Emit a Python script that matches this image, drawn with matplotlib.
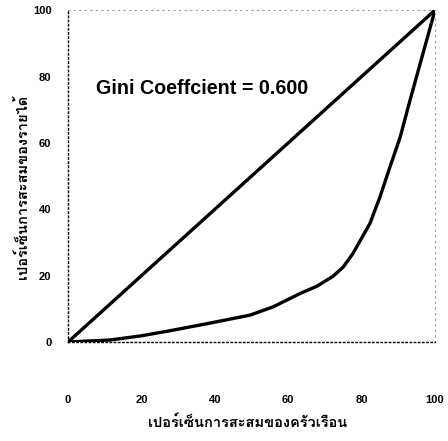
import matplotlib
matplotlib.use("Agg")
import matplotlib.pyplot as plt
from matplotlib import font_manager
from matplotlib.ft2font import FT2Font

# ---- data ----
equality_x = [0, 100]
equality_y = [0, 100]
lorenz_x = [0, 11.4, 19.6, 27.8, 38.7, 49.6, 55.9, 63.2, 67.8, 72.2, 75.0, 77.7, 82.3, 85.0, 87.7, 90.5, 93.2, 100]
lorenz_y = [0, 0.6, 1.8, 3.4, 5.7, 8.1, 10.6, 14.6, 16.8, 19.8, 22.6, 26.8, 35.8, 43.7, 52.7, 61.7, 72.9, 100]
ticks = [0, 20, 40, 60, 80, 100]
xlabel = "เปอร์เซ็นการสะสมของครัวเรือน"
ylabel = "เปอร์เซ็นการสะสมของรายได้"
annotation = "Gini Coeffcient = 0.600"

# find a font with Thai glyphs
thai_family = None
for f in font_manager.fontManager.ttflist:
    try:
        ft = FT2Font(f.fname)
        cm = ft.get_charmap()
        if 0x0E40 in cm and 0x0E2A in cm:
            thai_family = f.name
            if f.weight in ("bold", 700) or "Bold" in f.fname:
                break
    except Exception:
        pass
label_family = [thai_family, "DejaVu Sans"] if thai_family else ["DejaVu Sans"]

plt.rcParams['font.family'] = ['Liberation Sans', 'DejaVu Sans']

fig = plt.figure(figsize=(4.48, 4.41), dpi=100)
ax = fig.add_axes([0.152, 0.2245, 0.819, 0.7525])

ax.plot(equality_x, equality_y, color='black', lw=2.4, solid_capstyle='round')
ax.plot(lorenz_x, lorenz_y, color='black', lw=2.4, solid_joinstyle='round')

ax.set_xlim(0, 100)
ax.set_ylim(0, 100)
ax.set_xticks(ticks)
ax.set_yticks(ticks)
ax.set_xticklabels([str(t) for t in ticks], fontweight='bold', fontsize=8)
ax.set_yticklabels([str(t) for t in ticks], fontweight='bold', fontsize=8)
ax.tick_params(axis='x', length=0, pad=38)
ax.tick_params(axis='y', length=0, pad=12)

for side in ['left', 'bottom']:
    ax.spines[side].set_linestyle((0, (1, 2)))
    ax.spines[side].set_linewidth(1.0)
    ax.spines[side].set_color('black')
for side in ['top', 'right']:
    ax.spines[side].set_linestyle((0, (1, 4)))
    ax.spines[side].set_linewidth(0.8)
    ax.spines[side].set_color('#999999')

ax.text(7.6, 76.5, annotation, fontsize=14.2, fontweight='bold', va='center', ha='left')

ax.set_xlabel(xlabel, family=label_family, fontsize=10.5, fontweight='bold', va='center')
ax.xaxis.set_label_coords(0.49, -0.244)
ax.set_ylabel(ylabel, family=label_family, fontsize=10.5, fontweight='bold', va='center')
ax.yaxis.set_label_coords(-0.125, 0.467)

fig.savefig("out.png", dpi=100)
